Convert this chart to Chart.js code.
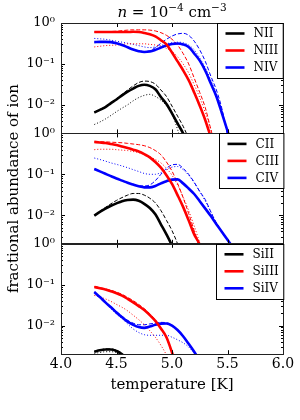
<!DOCTYPE html>
<html><head><meta charset="utf-8">
<script src="https://cdn.jsdelivr.net/npm/chart.js@4.4.1/dist/chart.umd.min.js"></script>
<style>html,body{margin:0;padding:0;background:#fff;}canvas{display:block;}</style>
</head><body>
<canvas id="c" width="300" height="420"></canvas>
<script>
// temperature grid (log10 T [K])
const temps = [4.30,4.35,4.40,4.45,4.50,4.55,4.60,4.65,4.70,4.75,4.80,4.85,4.90,4.95,5.00,5.05,5.10,5.15,5.20,5.25,5.30,5.35,5.40,5.45,5.50,5.55,5.60];
const xTicks = [4.0,4.5,5.0,5.5,6.0];
const yTicks = [1,0.1,0.01];

// Nitrogen panel
const nII_solid  = [0.0065,0.0075,0.0088,0.011,0.0135,0.017,0.021,0.025,0.029,0.031,0.029,0.024,0.0155,0.0105,0.0062,0.0035,0.002,0.0009];
const nII_dashed = [0.0066,0.0077,0.009,0.0113,0.014,0.018,0.023,0.029,0.035,0.038,0.037,0.032,0.023,0.016,0.0093,0.0053,0.003,0.0015,0.0007];
const nII_dotted = [0.0033,0.0038,0.0045,0.0055,0.0068,0.0083,0.01,0.0125,0.015,0.017,0.018,0.016,0.013,0.0095,0.006,0.0025,0.0009];
const nIII_solid  = [0.6,0.6,0.6,0.6,0.6,0.6,0.6,0.61,0.6,0.57,0.53,0.47,0.38,0.3,0.19,0.115,0.07,0.04,0.02,0.0095,0.0042,0.0016,0.0006];
const nIII_dashed = [0.6,0.6,0.61,0.62,0.63,0.65,0.67,0.68,0.68,0.68,0.67,0.64,0.58,0.5,0.4,0.29,0.18,0.1,0.045,0.02,0.0085,0.0025,0.0008];
const nIII_dotted = [0.26,0.27,0.28,0.285,0.29,0.3,0.31,0.31,0.31,0.31,0.3,0.29,0.27,0.24,0.2,0.15,0.1,0.06,0.031,0.015,0.0065,0.0025,0.0009];
const nIV_solid  = [0.34,0.345,0.345,0.34,0.32,0.29,0.255,0.225,0.205,0.195,0.2,0.22,0.25,0.28,0.305,0.315,0.3,0.26,0.18,0.12,0.068,0.033,0.016,0.0062,0.0023,0.0008];
const nIV_dashed = [0.34,0.345,0.345,0.34,0.32,0.29,0.255,0.225,0.21,0.2,0.21,0.25,0.32,0.4,0.48,0.54,0.56,0.5,0.36,0.22,0.115,0.05,0.023,0.008,0.0018,0.0005];
const nIV_dotted = [0.42,0.41,0.4,0.38,0.36,0.34,0.32,0.3,0.28,0.26,0.25,0.26,0.28,0.31,0.33,0.34,0.33,0.29,0.22,0.14,0.08,0.04,0.018,0.007,0.0025,0.0008];

// Carbon panel
const cII_solid  = [0.0098,0.012,0.0145,0.017,0.0195,0.022,0.0235,0.024,0.0225,0.019,0.015,0.0105,0.006,0.0034,0.0018,0.0008];
const cII_dashed = [0.01,0.0125,0.0155,0.019,0.023,0.027,0.031,0.034,0.034,0.031,0.026,0.02,0.013,0.0075,0.0042,0.002,0.0008];
const cIII_solid  = [0.62,0.6,0.58,0.55,0.52,0.48,0.44,0.4,0.36,0.31,0.26,0.2,0.145,0.095,0.058,0.031,0.016,0.0075,0.0034,0.0019,0.0007];
const cIII_dashed = [0.62,0.62,0.62,0.61,0.6,0.59,0.57,0.55,0.53,0.5,0.45,0.38,0.3,0.2,0.12,0.06,0.027,0.011,0.0042,0.0015,0.0005];
const cIII_dotted = [0.4,0.41,0.41,0.41,0.4,0.39,0.38,0.36,0.34,0.31,0.27,0.23,0.19,0.14,0.095,0.055,0.028,0.013,0.0055,0.0021,0.0008];
const cIV_solid  = [0.135,0.118,0.103,0.09,0.079,0.07,0.062,0.056,0.051,0.048,0.048,0.052,0.06,0.068,0.074,0.075,0.06,0.045,0.033,0.022,0.0145,0.0095,0.006,0.0039,0.0025,0.0016,0.001];
const cIV_dashed = [0.135,0.118,0.103,0.09,0.079,0.07,0.062,0.056,0.052,0.052,0.055,0.07,0.1,0.14,0.17,0.175,0.14,0.1,0.064,0.038,0.024,0.012,0.0065,0.004,0.0025,0.0016,0.001];
const cIV_dotted = [0.25,0.23,0.21,0.19,0.175,0.16,0.145,0.13,0.117,0.105,0.1,0.1,0.11,0.13,0.15,0.155,0.13,0.095,0.062,0.038,0.022,0.012,0.0065,0.004,0.0025,0.0016,0.001];

// Silicon panel
const siII_solid  = [0.0023,0.0025,0.0026,0.0026,0.0024,0.002,0.0015,0.001];
const siII_dashed = [0.0023,0.0025,0.0027,0.0027,0.0025,0.0021,0.0016,0.0011];
const siII_dotted = [0.0021,0.0022,0.0023,0.0023,0.0022,0.0019,0.0014,0.001];
const siIII_solid  = [0.088,0.082,0.076,0.069,0.062,0.054,0.045,0.037,0.03,0.024,0.018,0.013,0.0085,0.0052,0.0022,0.0008];
const siIII_dashed = [0.09,0.085,0.079,0.073,0.066,0.058,0.049,0.041,0.033,0.026,0.0195,0.0138,0.0088,0.005,0.0021,0.0008];
const siIII_dotted = [0.055,0.05,0.045,0.039,0.033,0.028,0.023,0.018,0.014,0.0105,0.0075,0.0052,0.0033,0.0019,0.0009];
const siIV_solid  = [0.066,0.05,0.037,0.028,0.021,0.016,0.0125,0.0105,0.0092,0.0088,0.0095,0.0105,0.0112,0.0113,0.01,0.0078,0.0055,0.0036,0.0023,0.0014];
const siIV_dashed = [0.066,0.051,0.038,0.029,0.022,0.017,0.0135,0.0115,0.0105,0.0105,0.011,0.0115,0.012,0.0118,0.0103,0.008,0.0056,0.0036,0.0022,0.0013];
const siIV_dotted = [0.066,0.05,0.036,0.026,0.019,0.015,0.011,0.0083,0.0068,0.006,0.0058,0.0058,0.0058,0.0058,0.0052,0.0045,0.0038,0.003,0.0021,0.0014];

const ionColors = ['#000000','#ff0000','#0000ff'];
const panels = [
  {axis:'yN',  names:['NII','NIII','NIV'],     series:[[nII_solid,nII_dashed,nII_dotted],[nIII_solid,nIII_dashed,nIII_dotted],[nIV_solid,nIV_dashed,nIV_dotted]]},
  {axis:'yC',  names:['CII','CIII','CIV'],     series:[[cII_solid,cII_dashed,null],[cIII_solid,cIII_dashed,cIII_dotted],[cIV_solid,cIV_dashed,cIV_dotted]]},
  {axis:'ySi', names:['SiII','SiIII','SiIV'],  series:[[siII_solid,siII_dashed,siII_dotted],[siIII_solid,siIII_dashed,siIII_dotted],[siIV_solid,siIV_dashed,siIV_dotted]]}
];

const FONT = 'DejaVu Serif';
const styles = ['solid','dashed','dotted'];
function pts(arr){ const out=[]; arr.forEach((v,i)=>{ if(v!=null) out.push({x:temps[i], y:v}); }); return out; }
const datasets = [];
panels.forEach(p=>{
  p.series.forEach((trip,ci)=>{
    trip.forEach((arr,si)=>{
      if(!arr) return;
      const st = styles[si];
      datasets.push({
        label: p.names[ci] + ' ' + st,
        data: pts(arr),
        xAxisID:'x', yAxisID:p.axis,
        borderColor: ionColors[ci],
        borderWidth: st==='solid'?2.6:1,
        borderDash: st==='dashed'?[4,2]:(st==='dotted'?[1,2]:[]),
        pointRadius:0, fill:false, cubicInterpolationMode:'monotone',
        clip:0, order: st==='solid'?0:1
      });
    });
  });
});

function supLabel(v){
  const e = Math.round(Math.log10(v));
  const map = {'0':'⁰','1':'¹','2':'²','-':'⁻'};
  return '10' + String(e).split('').map(c=>map[c]).join('');
}
function yAxis(withTitle){
  return {
    type:'logarithmic', position:'left', stack:'panels', stackWeight:1,
    min:0.002, max:1, offset:false,
    grid:{display:false, drawTicks:false}, border:{display:false},
    afterBuildTicks: s => { s.ticks = yTicks.map(v=>({value:v})); },
    afterFit: s => { s.width = 61; },
    ticks:{autoSkip:false, padding:6, color:'#000', font:{family:FONT, size:13}, callback:(v)=>supLabel(v)},
    title:{display:withTitle, text:'fractional abundance of ion', color:'#000', font:{family:FONT, size:15}, padding:{top:5,bottom:0}}
  };
}

const decor = {
  id:'decor',
  afterDatasetsDraw(chart){
    const ctx = chart.ctx, xs = chart.scales.x;
    const L = xs.left, R = xs.right;
    panels.forEach(p=>{
      const ys = chart.scales[p.axis];
      const T = ys.top, B = ys.bottom;
      ctx.save();
      ctx.strokeStyle = '#000'; ctx.lineWidth = 1;
      ctx.beginPath();
      for(let k=-3;k<=0;k++){
        for(let m=1;m<=9;m++){
          const v = m*Math.pow(10,k);
          if(v<0.002-1e-12 || v>1+1e-12) continue;
          const y = Math.round(ys.getPixelForValue(v))+0.5;
          const len = (m===1)?4:2;
          ctx.moveTo(L, y); ctx.lineTo(L+len, y);
          ctx.moveTo(R, y); ctx.lineTo(R-len, y);
        }
      }
      xTicks.forEach(t=>{
        const x = Math.round(xs.getPixelForValue(t))+0.5;
        ctx.moveTo(x, T); ctx.lineTo(x, T+4);
        ctx.moveTo(x, B); ctx.lineTo(x, B-4);
      });
      ctx.stroke();
      ctx.strokeStyle = '#222';
      ctx.strokeRect(Math.round(L)+0.5, Math.round(T)+0.5, Math.round(R-L), Math.round(B-T));
      // legend
      ctx.font = '12px "'+FONT+'"';
      const maxw = Math.max(...p.names.map(n=>ctx.measureText(n).width));
      const bw = 41 + maxw, bh = 55;
      const bx = Math.round(R - bw)+0.5, by = Math.round(T)+0.5;
      ctx.fillStyle = '#fff';
      ctx.fillRect(bx, by, bw, bh);
      ctx.strokeStyle = '#000';
      ctx.strokeRect(bx, by, bw, bh);
      p.names.forEach((n,i)=>{
        const y = T + 10.5 + i*17;
        ctx.strokeStyle = ionColors[i]; ctx.lineWidth = 2.6;
        ctx.beginPath(); ctx.moveTo(bx+8, y); ctx.lineTo(bx+27, y); ctx.stroke();
        ctx.fillStyle = '#000'; ctx.textBaseline = 'middle'; ctx.textAlign='left';
        ctx.fillText(n, bx+36, y+0.5);
      });
      ctx.restore();
    });
    // title: n = 10^-4 cm^-3
    const parts = [
      {t:'n', f:'italic 15px "'+FONT+'"', dy:0},
      {t:' = 10', f:'15px "'+FONT+'"', dy:0},
      {t:'−4', f:'10.5px "'+FONT+'"', dy:-6},
      {t:' cm', f:'15px "'+FONT+'"', dy:0},
      {t:'−3', f:'10.5px "'+FONT+'"', dy:-6}
    ];
    ctx.save();
    let w = 0;
    parts.forEach(pp=>{ ctx.font = pp.f; pp.w = ctx.measureText(pp.t).width; w += pp.w; });
    let x = (L+R)/2 - w/2;
    ctx.fillStyle = '#000'; ctx.textBaseline = 'alphabetic'; ctx.textAlign='left';
    parts.forEach(pp=>{ ctx.font = pp.f; ctx.fillText(pp.t, x, 17 + pp.dy); x += pp.w; });
    ctx.restore();
  }
};

new Chart(document.getElementById('c'), {
  type:'line',
  data:{datasets},
  options:{
    responsive:false, animation:false, devicePixelRatio:1,
    layout:{padding:{top:23, right:17, left:0, bottom:25}},
    plugins:{legend:{display:false}, tooltip:{enabled:false}, title:{display:false}},
    scales:{
      x:{type:'linear', position:'bottom', min:4, max:6,
         grid:{display:false, drawTicks:false}, border:{display:false},
         afterBuildTicks: s => { s.ticks = xTicks.map(v=>({value:v})); },
         ticks:{color:'#000', padding:2, maxRotation:0, autoSkip:false, font:{family:FONT, size:14}, callback:v=>Number(v).toFixed(1)},
         title:{display:true, text:'temperature [K]', color:'#000', font:{family:FONT, size:15}, padding:{top:1,bottom:1}}},
      ySi: yAxis(false),
      yC: yAxis(true),
      yN: yAxis(false)
    }
  },
  plugins:[decor]
});
</script>
</body></html>
